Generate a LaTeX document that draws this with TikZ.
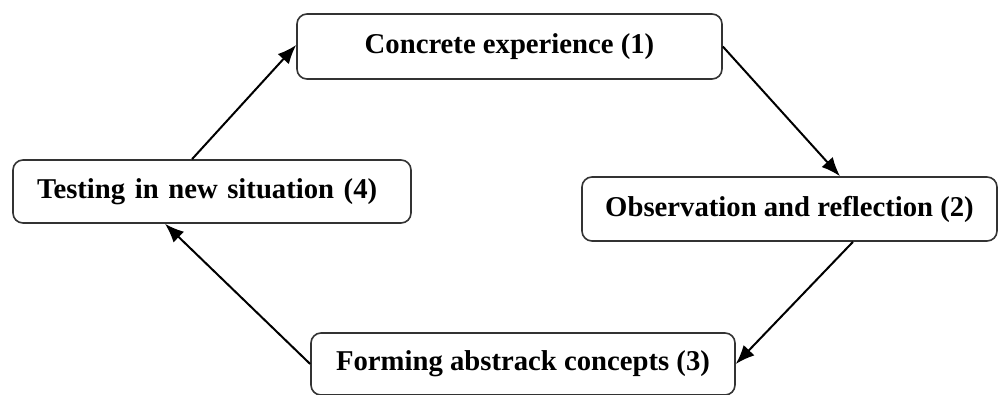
\documentclass[tikz,border=0pt]{standalone}
\usepackage{fontspec}
\setmainfont{Liberation Serif}
\usetikzlibrary{arrows.meta}

\tikzset{
  stage/.style={draw=black!80,line width=1.6pt,rounded corners=10pt,inner sep=0pt,
    font=\fontsize{28.7}{32}\selectfont\bfseries},
  cycle/.style={line width=2pt,-{Latex[length=19pt,width=15pt]}}
}

\begin{document}
\begin{tikzpicture}[x=1pt,y=-1pt]
    \useasboundingbox (0,0) rectangle (998,394);

      \node[stage,minimum width=425pt,minimum height=65pt] (concrete) at (509.5,46.5) {Concrete experience (1)};
      \node[stage,minimum width=415pt,minimum height=64pt] (observe) at (789.5,209) {Observation and reflection (2)};
      \node[stage,minimum width=424pt,minimum height=62pt] (abstract) at (523,364) {Forming abstrack concepts (3)};
      \node[stage,minimum width=398pt,minimum height=63pt,text width=350pt,align=left] (testing) at (212,191.5) {Testing in new situation (4)};

      \draw[cycle] (concrete.east) -- ([xshift=50.5pt]observe.north);
      \draw[cycle] ([xshift=63.5pt]observe.south) -- (abstract.east);
      \draw[cycle] (abstract.west) -- ([xshift=-47pt]testing.south);
      \draw[cycle] ([xshift=-20pt]testing.north) -- ([yshift=1.5pt]concrete.west);
\end{tikzpicture}
\end{document}
